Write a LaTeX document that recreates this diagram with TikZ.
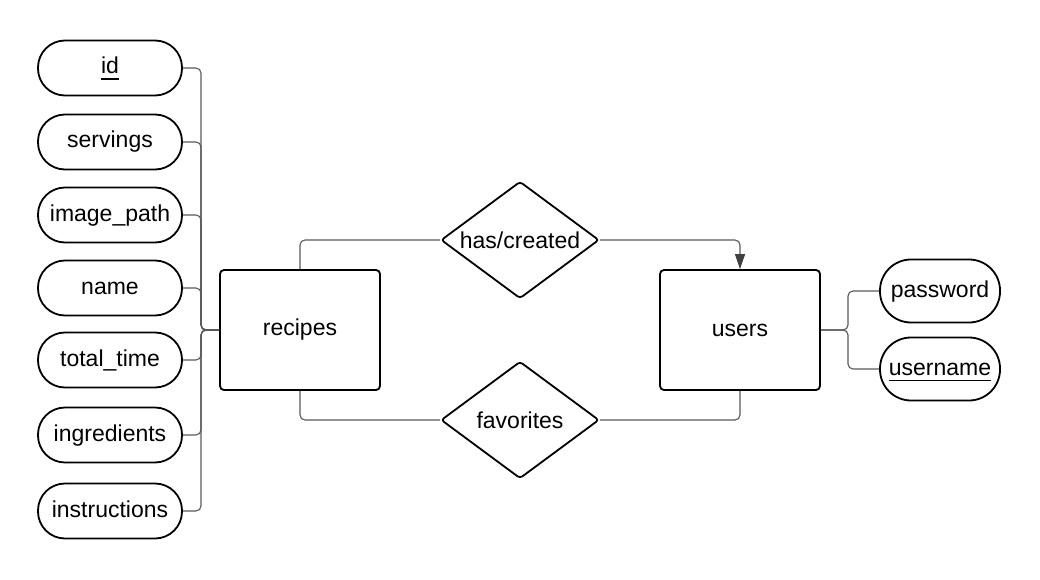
\documentclass[tikz,border=0pt]{standalone}
\usepackage{fontspec}
\setmainfont{Liberation Sans}
\usetikzlibrary{shapes.geometric,arrows.meta}
\newcommand{\keyattr}[1]{\setbox0\hbox{#1}\rlap{\smash{\raisebox{-6pt}{\rule{\wd0}{1.5pt}}}}\box0}
\tikzset{
  attr/.style={draw, line width=1.8pt, rectangle, rounded corners=27pt,
    minimum width=144pt, minimum height=55pt, inner sep=0pt,
    text height=16pt, text depth=4pt, font=\fontsize{23}{27}\selectfont},
  uattr/.style={attr, rounded corners=31pt, minimum width=120pt, minimum height=63pt},
  entity/.style={draw, line width=1.8pt, rectangle, rounded corners=4pt,
    minimum width=160pt, minimum height=120pt, font=\fontsize{23}{27}\selectfont},
  relation/.style={draw, line width=1.8pt, diamond, rounded corners=3pt, aspect=1.35,
    minimum width=158pt, minimum height=117pt, inner sep=0pt, font=\fontsize{23}{27}\selectfont},
  conn/.style={draw=black!65, line width=1.1pt, rounded corners=5pt}
}
\begin{document}
\begin{tikzpicture}[x=1pt,y=-1pt]
\useasboundingbox (0,0) rectangle (1040,580);
% entities
\node[entity] (recipes) at (300,330) {recipes};
\node[entity] (users) at (740,330) {users};
% relationships
\node[relation] (hascreated) at (520,240) {has/created};
\node[relation] (favorites) at (520,420) {favorites};
% recipes attributes
\coordinate (rj) at (201,330);
\foreach \n/\t/\y in {id/{\keyattr{id}}/68, servings/servings/142, imagepath/image\_path/215,
    name/name/288, totaltime/total\_time/360, ingredients/ingredients/435,
    instructions/instructions/511}{
  \node[attr] (\n) at (110,\y) {\t};
  \draw[conn] (\n.east) -| (rj) -- (recipes.west);
}
% users attributes
\coordinate (uj) at (848,330);
\node[uattr] (password) at (940,291) {password};
\node[uattr] (username) at (940,369) {\keyattr{username}};
\draw[conn] (password.west) -| (uj) -- (users.east);
\draw[conn] (username.west) -| (uj) -- (users.east);
% relationship lines
\draw[conn] (recipes.north) |- (hascreated.west);
\draw[conn, -{Triangle[length=15pt,width=10pt,fill=black!75,color=black!75]}] (hascreated.east) -| (users.north);
\draw[conn] (recipes.south) |- (favorites.west);
\draw[conn] (favorites.east) -| (users.south);
\end{tikzpicture}
\end{document}
